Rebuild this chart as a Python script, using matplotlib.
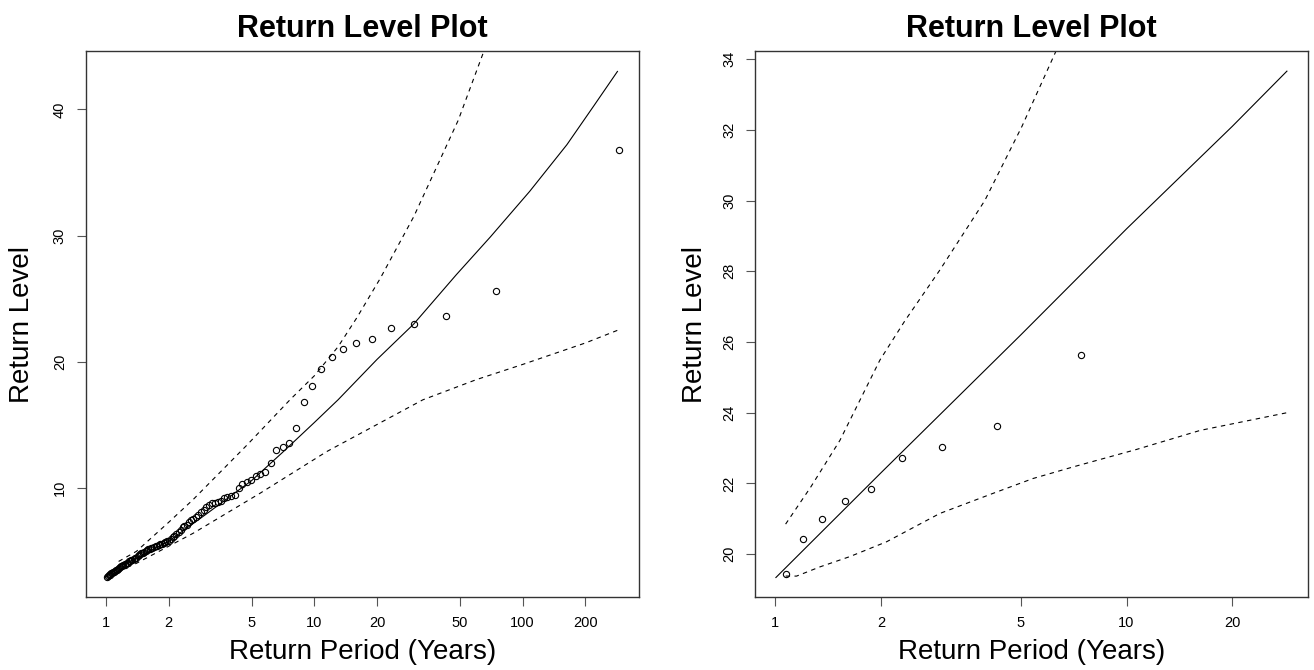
import numpy as np
import matplotlib
matplotlib.use("Agg")
from matplotlib import pyplot as plt

plt.rcParams['font.family'] = ['Liberation Sans', 'DejaVu Sans']

## Panel izquierdo: todos los datos
# periodos empiricos (anios) y niveles observados
per_obs = [288.6, 74.8, 42.98, 30.15, 23.22, 18.88, 15.91, 13.74, 12.10, 10.80,
           9.76, 8.90, 8.18, 7.57, 7.04, 6.58, 6.18, 5.82, 5.50, 5.22,
           4.96, 4.73, 4.52, 4.33, 4.15, 3.98, 3.83, 3.69, 3.56, 3.44,
           3.33, 3.22, 3.12, 3.03, 2.94, 2.86, 2.78, 2.70, 2.63, 2.57,
           2.50, 2.44, 2.38, 2.33, 2.28, 2.23, 2.18, 2.13, 2.09, 2.05,
           2.01, 1.97, 1.93, 1.89, 1.86, 1.82, 1.79, 1.76, 1.73, 1.70,
           1.67, 1.65, 1.62, 1.59, 1.57, 1.55, 1.52, 1.50, 1.48, 1.46,
           1.44, 1.42, 1.40, 1.38, 1.36, 1.34, 1.32, 1.31, 1.29, 1.27,
           1.26, 1.24, 1.23, 1.21, 1.20, 1.18, 1.17, 1.16, 1.14, 1.13,
           1.12, 1.11, 1.09, 1.08, 1.07, 1.06, 1.05, 1.04, 1.03, 1.02, 1.01]
niv_obs = [36.8, 25.6, 23.6, 23.0, 22.7, 21.8, 21.5, 21.0, 20.4, 19.4,
           18.1, 16.8, 14.8, 13.6, 13.3, 13.0, 12.0, 11.3, 11.1, 10.95,
           10.65, 10.5, 10.3, 10.05, 9.5, 9.35, 9.3, 9.2, 9.0, 8.9,
           8.85, 8.8, 8.7, 8.5, 8.3, 8.1, 7.9, 7.7, 7.6, 7.45,
           7.3, 7.1, 7.0, 6.9, 6.7, 6.55, 6.4, 6.25, 6.15, 6.0,
           5.85, 5.8, 5.7, 5.65, 5.6, 5.55, 5.5, 5.45, 5.4, 5.35,
           5.3, 5.25, 5.2, 5.15, 5.1, 5.0, 4.95, 4.9, 4.85, 4.8,
           4.7, 4.6, 4.5, 4.45, 4.4, 4.35, 4.3, 4.25, 4.2, 4.1,
           4.05, 4.0, 3.95, 3.9, 3.85, 3.8, 3.75, 3.7, 3.6, 3.55,
           3.5, 3.45, 3.4, 3.35, 3.3, 3.25, 3.2, 3.15, 3.1, 3.05, 3.0]

# curva ajustada
per_fit = [1.0, 1.2, 1.5, 2, 3, 5, 7, 10, 13, 20, 30, 48, 70, 108, 163, 220, 285]
niv_fit = [3.0, 3.9, 4.7, 5.8, 7.9, 10.6, 12.8, 15.2, 17.0, 20.2, 23.0, 26.9, 29.9, 33.5, 37.2, 40.3, 43.0]

# bandas de confianza
per_sup = [1.15, 1.4, 2.0, 2.62, 4.74, 7.64, 10, 13, 16, 20.7, 30, 49.1, 70]
niv_sup = [4.2, 5.0, 7.3, 9.1, 13.4, 17.0, 18.9, 21.2, 23.5, 26.6, 31.5, 39.15, 46.0]
per_inf = [1.15, 1.4, 2.62, 5.49, 11.47, 33.2, 60, 100, 200, 285]
niv_inf = [3.5, 4.05, 6.43, 9.6, 12.9, 17.0, 18.6, 19.8, 21.5, 22.5]

## Panel derecho: maximos anuales
per_obs2 = [28.57, 7.41, 4.27, 2.99, 2.30, 1.874, 1.58, 1.362, 1.198, 1.071]
niv_obs2 = [36.8, 25.63, 23.63, 23.04, 22.72, 21.83, 21.51, 20.99, 20.43, 19.44]

per_fit2 = [1.005, 2, 5, 10, 20, 28.6]
niv_fit2 = [19.34, 22.3, 26.2, 29.2, 32.1, 33.66]

per_sup2 = [1.071, 1.263, 1.529, 1.987, 2.34, 2.94, 3.95, 5.04, 6.3, 7.0]
niv_sup2 = [20.85, 21.9, 23.22, 25.49, 26.6, 28.03, 30.0, 32.1, 34.23, 35.0]
per_inf2 = [1.071, 1.151, 1.341, 1.63, 2.075, 2.94, 4.17, 5.42, 7.06, 10.66, 16.2, 28.6]
niv_inf2 = [19.38, 19.38, 19.64, 19.93, 20.35, 21.15, 21.72, 22.14, 22.47, 22.96, 23.5, 24.0]


fig = plt.figure(figsize=(13.14, 6.70), dpi=100)
ax1 = fig.add_axes([0.0652, 0.1085, 0.4209, 0.8154])
ax2 = fig.add_axes([0.5748, 0.1085, 0.4204, 0.8154])

def panel(ax, px, py, pf, yf, ps, ys, pi, yi, xt, yt, xl, yl):
  ax.plot(pf, yf, '-', color='black', linewidth=0.8)
  ax.plot(ps, ys, color='black', linewidth=0.8, linestyle=(0, (4, 4)))
  ax.plot(pi, yi, color='black', linewidth=0.8, linestyle=(0, (4, 4)))
  ax.plot(px, py, 'o', markerfacecolor='none', markeredgecolor='black',
          markersize=4.5, markeredgewidth=0.8)
  ax.set_xscale('log')
  ax.set_xlim(xl)
  ax.set_ylim(yl)
  ax.set_xticks(xt)
  ax.set_xticklabels([str(t) for t in xt])
  ax.minorticks_off()
  ax.set_yticks(yt)
  ax.set_yticklabels([str(t) for t in yt], rotation=90, va='center')
  ax.tick_params(length=6.5, width=0.8, color='#555555', labelsize=10.5, pad=7)
  for s in ax.spines.values():
    s.set_color('#333333')
    s.set_linewidth(1.0)
  ax.set_title('Return Level Plot', fontsize=22, fontweight='bold', pad=10)
  ax.set_xlabel('Return Period (Years)', fontsize=20, va='center')
  ax.xaxis.set_label_coords(0.5, -0.100)
  ax.set_ylabel('Return Level', fontsize=20, va='center')

panel(ax1, per_obs, niv_obs, per_fit, niv_fit, per_sup, niv_sup, per_inf, niv_inf,
      [1, 2, 5, 10, 20, 50, 100, 200], [10, 20, 30, 40], (0.799, 360.6), (1.36, 44.62))
ax1.yaxis.set_label_coords(-0.115, 0.5)
panel(ax2, per_obs2, niv_obs2, per_fit2, niv_fit2, per_sup2, niv_sup2, per_inf2, niv_inf2,
      [1, 2, 5, 10, 20], [20, 22, 24, 26, 28, 30, 32, 34], (0.878, 32.77), (18.78, 34.23))
ax2.yaxis.set_label_coords(-0.110, 0.5)

plt.savefig('out.png', dpi=100)
